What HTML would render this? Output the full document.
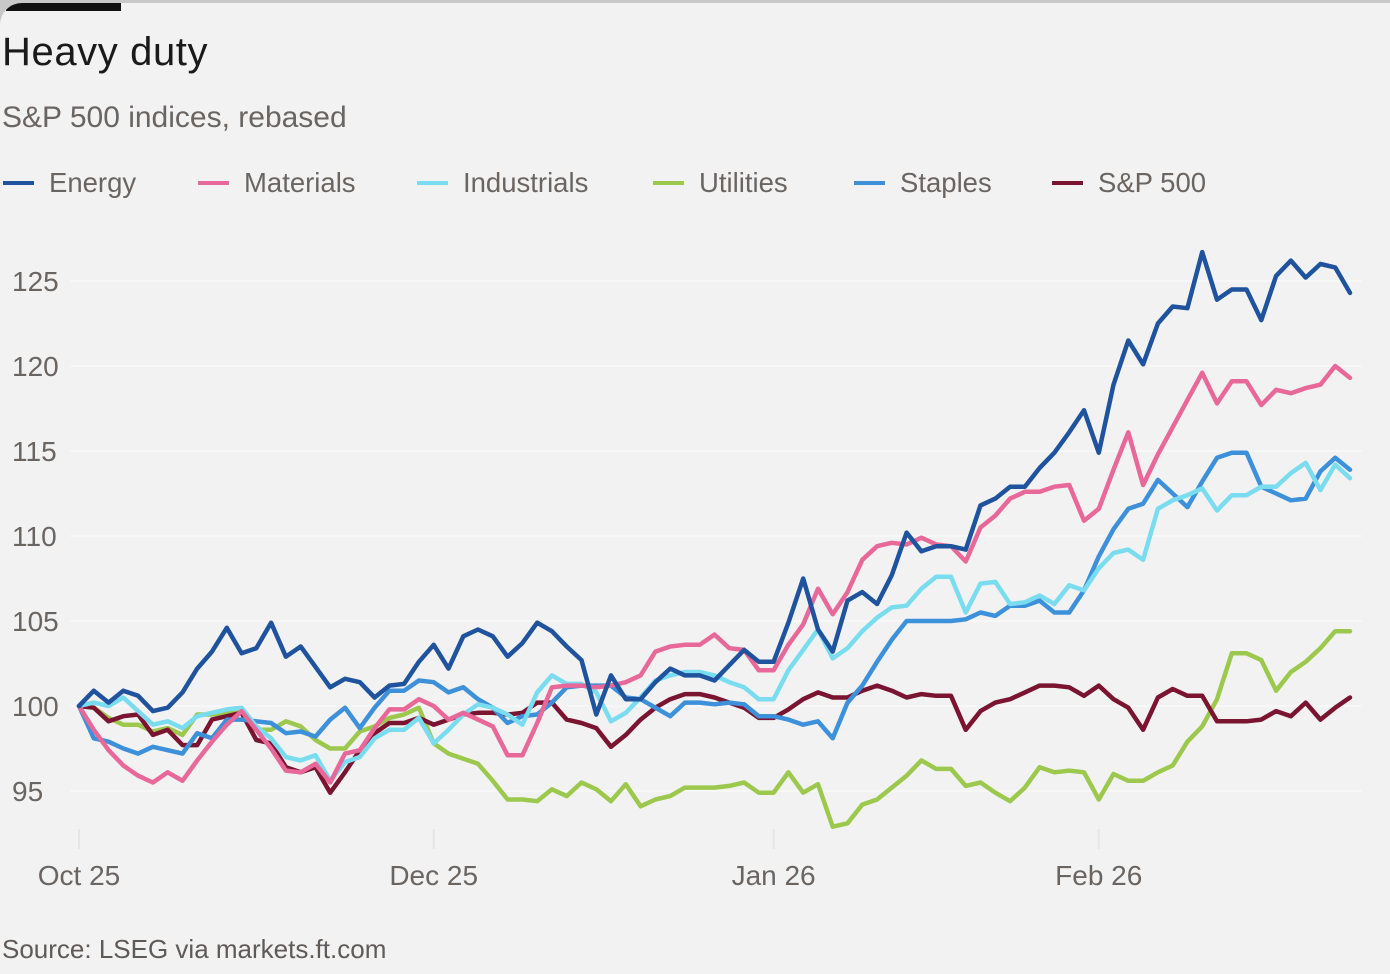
<!DOCTYPE html>
<html><head><meta charset="utf-8"><style>
html,body{margin:0;padding:0;background:#c9c9c9;}
#card{position:absolute;left:0;top:3px;width:1390px;height:971px;background:#f2f2f2;border-top-left-radius:22px;overflow:hidden;font-family:"Liberation Sans",sans-serif;}
.t{position:absolute;white-space:nowrap;}
</style></head><body>
<div id="card">
<div class="t" style="left:6px;top:0;width:115px;height:8px;background:#111;"></div>
<div class="t" style="left:2px;top:27px;font-size:40px;letter-spacing:0.6px;color:#1a1a1a;">Heavy duty</div>
<div class="t" style="left:2px;top:98px;font-size:30px;color:#6b6562;">S&amp;P 500 indices, rebased</div>
<svg id="chart" width="1390" height="971" style="position:absolute;left:0;top:0"></svg>
<div class="t" style="left:2px;top:931px;font-size:26px;color:#5f5a57;">Source: LSEG via markets.ft.com</div>
</div>
<script>
const seriesNames=["Energy","Materials","Industrials","Utilities","Staples","S&P 500"];
const energy=[100.0,100.9,100.2,100.9,100.6,99.7,99.9,100.8,102.2,103.2,104.6,103.1,103.4,104.9,102.9,103.5,102.3,101.1,101.6,101.4,100.5,101.2,101.3,102.6,103.6,102.2,104.1,104.5,104.1,102.9,103.7,104.9,104.4,103.5,102.7,99.5,101.8,100.4,100.4,101.4,102.2,101.8,101.8,101.5,102.4,103.3,102.6,102.6,104.9,107.5,104.5,103.2,106.2,106.7,106.0,107.7,110.2,109.1,109.4,109.4,109.2,111.8,112.2,112.9,112.9,114.0,114.9,116.1,117.4,114.9,118.9,121.5,120.1,122.5,123.5,123.4,126.7,123.9,124.5,124.5,122.7,125.3,126.2,125.2,126.0,125.8,124.3];
const materials=[100.0,98.6,97.4,96.5,95.9,95.5,96.1,95.6,96.8,97.9,98.9,99.7,98.6,97.5,96.2,96.1,96.6,95.5,97.2,97.4,98.7,99.8,99.8,100.4,100.0,99.2,99.6,99.2,98.8,97.1,97.1,99.0,101.1,101.2,101.2,101.1,101.2,101.4,101.8,103.2,103.5,103.6,103.6,104.2,103.4,103.3,102.1,102.1,103.6,104.8,106.9,105.4,106.7,108.6,109.4,109.6,109.5,109.9,109.5,109.4,108.5,110.5,111.2,112.2,112.6,112.6,112.9,113.0,110.9,111.6,113.9,116.1,113.0,114.8,116.4,118.0,119.6,117.8,119.1,119.1,117.7,118.6,118.4,118.7,118.9,120.0,119.3];
const industrials=[100.0,100.2,100.0,100.5,99.7,98.9,99.1,98.7,99.4,99.6,99.8,99.9,98.8,98.1,97.0,96.8,97.1,95.6,96.7,97.0,98.1,98.6,98.6,99.3,97.8,98.6,99.5,100.1,99.9,99.5,98.9,100.8,101.8,101.3,101.3,100.8,99.1,99.6,100.5,101.5,101.8,102.0,102.0,101.8,101.4,101.1,100.4,100.4,102.1,103.3,104.5,102.8,103.4,104.4,105.2,105.8,105.9,106.9,107.6,107.6,105.5,107.2,107.3,106.0,106.1,106.5,106.0,107.1,106.8,108.1,109.0,109.2,108.6,111.6,112.1,112.4,112.8,111.5,112.4,112.4,112.9,112.9,113.7,114.3,112.7,114.2,113.4];
const utilities=[100.0,99.9,99.3,98.9,98.9,98.5,98.7,98.3,99.5,99.5,99.6,99.6,98.6,98.6,99.1,98.8,98.0,97.5,97.5,98.5,98.8,99.3,99.5,99.9,97.8,97.2,96.9,96.6,95.6,94.5,94.5,94.4,95.1,94.7,95.5,95.1,94.4,95.4,94.1,94.5,94.7,95.2,95.2,95.2,95.3,95.5,94.9,94.9,96.1,94.9,95.4,92.9,93.1,94.2,94.5,95.2,95.9,96.8,96.3,96.3,95.3,95.5,94.9,94.4,95.2,96.4,96.1,96.2,96.1,94.5,96.0,95.6,95.6,96.1,96.5,97.9,98.8,100.4,103.1,103.1,102.7,100.9,102.0,102.6,103.4,104.4,104.4];
const staples=[100.0,98.1,97.9,97.5,97.2,97.6,97.4,97.2,98.4,98.1,99.2,99.2,99.1,99.0,98.4,98.5,98.2,99.2,99.9,98.7,99.9,100.9,100.9,101.5,101.4,100.8,101.1,100.4,99.9,99.0,99.4,99.5,100.2,101.1,101.2,101.2,101.2,100.5,100.4,99.9,99.4,100.2,100.2,100.1,100.2,100.1,99.4,99.4,99.2,98.9,99.1,98.1,100.2,101.2,102.6,103.9,105.0,105.0,105.0,105.0,105.1,105.5,105.3,105.9,105.9,106.2,105.5,105.5,106.8,108.8,110.4,111.6,111.9,113.3,112.5,111.7,113.2,114.6,114.9,114.9,112.9,112.5,112.1,112.2,113.8,114.6,113.9];
const sp500=[100.0,99.9,99.1,99.4,99.5,98.3,98.6,97.7,97.7,99.2,99.4,99.6,98.0,97.8,96.4,96.1,96.4,94.9,96.1,97.4,98.4,99.0,99.0,99.3,98.9,99.2,99.5,99.6,99.6,99.5,99.6,100.2,100.2,99.2,99.0,98.7,97.6,98.3,99.2,99.9,100.4,100.7,100.7,100.5,100.2,99.9,99.3,99.3,99.8,100.4,100.8,100.5,100.5,100.9,101.2,100.9,100.5,100.7,100.6,100.6,98.6,99.7,100.2,100.4,100.8,101.2,101.2,101.1,100.6,101.2,100.4,99.9,98.6,100.5,101.0,100.6,100.6,99.1,99.1,99.1,99.2,99.7,99.4,100.2,99.2,99.9,100.5];
const yTicks=[95,100,105,110,115,120,125];
const xTickLabels=["Oct 25","Dec 25","Jan 26","Feb 26"];
const xTickIndex=[0,24,47,69];

const svg=document.getElementById('chart');
const NS='http://www.w3.org/2000/svg';
const X0=79,X1=1350,N=energy.length;
const xs=i=>X0+(X1-X0)*i/(N-1);
const ys=v=>703-(v-100)*17;
function mk(tag,attrs){const e=document.createElementNS(NS,tag);for(const k in attrs)e.setAttribute(k,attrs[k]);svg.appendChild(e);return e;}

yTicks.forEach(t=>{
  const g=mk('line',{x1:70,x2:1362,y1:ys(t),y2:ys(t),stroke:'#f7f7f7','stroke-width':2});
  
  
  const l=mk('text',{x:12,y:ys(t)+10,'font-size':28,fill:'#6b6562','font-family':'Liberation Sans, sans-serif'});
  l.textContent=t;
  
  
});
xTickIndex.forEach((ix,k)=>{
  const tk=mk('line',{x1:xs(ix),x2:xs(ix),y1:826,y2:846,stroke:'#e6e6e6','stroke-width':2});
  
  
  const l=mk('text',{x:xs(ix),y:882,'font-size':28,fill:'#6b6562','text-anchor':'middle','font-family':'Liberation Sans, sans-serif'});
  l.textContent=xTickLabels[k];
  
  
});

const colors=["#1f539e","#e8689a","#79dcef","#9dc84e","#3d90da","#7a1430"];
const data=[energy,materials,industrials,utilities,staples,sp500];
const order=[3,5,4,2,1,0];
order.forEach(s=>{
  const d=data[s].map((v,i)=>(i?'L':'M')+xs(i).toFixed(1)+','+ys(v).toFixed(1)).join('');
  const p=mk('path',{d:d,fill:'none',stroke:colors[s],'stroke-width':4.5,'stroke-linejoin':'round','stroke-linecap':'round'});
  
  
});

const legX=[2,197,416,652,853,1051];
seriesNames.forEach((n,s)=>{
  const m=mk('line',{x1:legX[s]+1,x2:legX[s]+32,y1:180,y2:180,stroke:colors[s],'stroke-width':4});
  
  
  const t=mk('text',{x:legX[s]+47,y:189,'font-size':27.5,fill:'#6b6562','font-family':'Liberation Sans, sans-serif'});
  t.textContent=n;
  
  
});
</script>
</body></html>
